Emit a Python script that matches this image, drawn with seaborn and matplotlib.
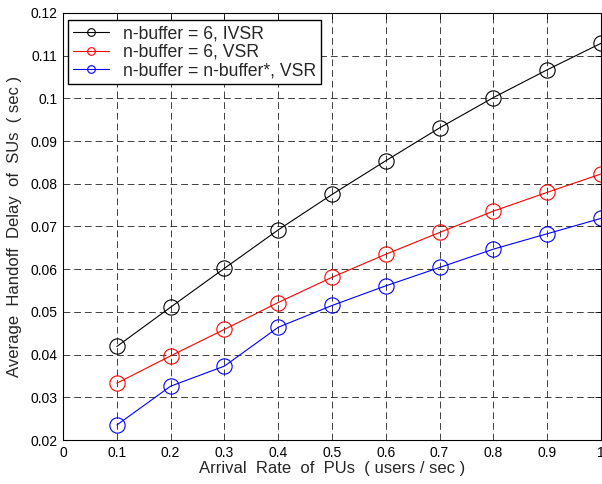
import matplotlib
matplotlib.use("Agg")
import matplotlib.pyplot as plt
import matplotlib.ticker as mticker
import seaborn as sns
import pandas as pd

x_vals = [0.1, 0.2, 0.3, 0.4, 0.5, 0.6, 0.7, 0.8, 0.9, 1.0]
ivsr_6 = [0.0419, 0.0511, 0.0602, 0.0692, 0.0775, 0.0854, 0.0931, 0.1002, 0.1067, 0.1129]
vsr_6 = [0.0333, 0.0397, 0.0459, 0.0522, 0.0581, 0.0635, 0.0686, 0.0736, 0.0780, 0.0823]
vsr_opt = [0.0235, 0.0326, 0.0373, 0.0464, 0.0515, 0.0561, 0.0604, 0.0647, 0.0683, 0.0719]
labels = ["n-buffer = 6, IVSR", "n-buffer = 6, VSR", "n-buffer = n-buffer*, VSR"]
colors = ["black", "red", "blue"]
x_ticks = [0, 0.1, 0.2, 0.3, 0.4, 0.5, 0.6, 0.7, 0.8, 0.9, 1]
y_ticks = [0.02, 0.03, 0.04, 0.05, 0.06, 0.07, 0.08, 0.09, 0.1, 0.11, 0.12]

sns.set_style("white")
plt.rcParams["font.family"] = ["Liberation Sans", "DejaVu Sans"]

fig = plt.figure(figsize=(6.02, 4.84), dpi=100)
ax = fig.add_axes([63 / 602, 44 / 484, 538 / 602, 427 / 484])

for vals, lab, col in zip([ivsr_6, vsr_6, vsr_opt], labels, colors):
    df = pd.DataFrame({"x": x_vals, "y": vals})
    sns.lineplot(data=df, x="x", y="y", ax=ax, color=col, marker="o",
                 markersize=11, markerfacecolor="none", markeredgecolor=col,
                 markeredgewidth=0.8, linewidth=0.8, label=lab)

ax.set_xlim(0, 1)
ax.set_ylim(0.02, 0.12)
ax.set_xticks(x_ticks)
ax.set_yticks(y_ticks)
ax.xaxis.set_major_formatter(mticker.FuncFormatter(lambda v, p: "%g" % v))
ax.yaxis.set_major_formatter(mticker.FuncFormatter(lambda v, p: "%g" % round(v, 3)))
ax.tick_params(direction="in", top=True, right=True, length=4, width=0.6,
               labelsize=10, colors="black", pad=4)
ax.grid(True, color="black", linestyle=(0, (7, 4)), linewidth=0.7, alpha=0.75)
for s in ax.spines.values():
    s.set_visible(True)
    s.set_color("black")
    s.set_linewidth(0.8)

ax.set_xlabel("Arrival  Rate  of  PUs  ( users / sec )", fontsize=12, labelpad=1)
ax.set_ylabel("Average  Handoff  Delay  of  SUs  ( sec )", fontsize=12, labelpad=6)

leg = ax.legend(loc="upper left", bbox_to_anchor=(5 / 538, 1 - 7 / 427),
                borderaxespad=0, fontsize=12.7, frameon=True, fancybox=False,
                edgecolor="black", framealpha=1, borderpad=0.3, labelspacing=0.08,
                handlelength=2.05, handletextpad=0.75, markerscale=0.5)
leg.get_frame().set_linewidth(1.0)

fig.savefig("out.png", dpi=100)
